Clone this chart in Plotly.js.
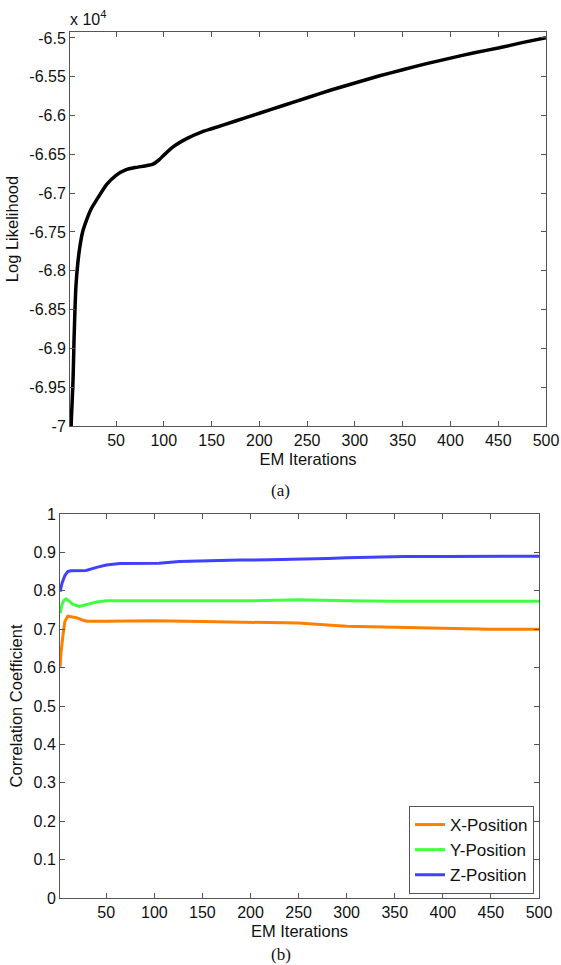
<!DOCTYPE html>
<html>
<head>
<meta charset="utf-8">
<script src="https://cdn.plot.ly/plotly-3.0.1.min.js"></script>
<style>html,body{margin:0;padding:0;background:#fff;}#chart{width:561px;height:965px;}</style>
</head>
<body>
<div id="chart"></div>
<script>
// Top panel: log likelihood (values in units of 1e4)
const llIter = [2,3,4,5,6,7,8,10,12,15,19,24,30,40,50,60,70,80,88,95,100,110,125,140,150,175,200,225,250,275,300,325,350,375,400,425,450,475,500];
const llValue = [-7.2,-7.0,-6.97,-6.94,-6.89,-6.85,-6.82,-6.79,-6.77,-6.75,-6.735,-6.72,-6.708,-6.689,-6.677,-6.670,-6.667,-6.665,-6.663,-6.657,-6.651,-6.640,-6.629,-6.621,-6.617,-6.607,-6.597,-6.587,-6.577,-6.567,-6.558,-6.549,-6.541,-6.533,-6.526,-6.519,-6.513,-6.506,-6.4997];

// Bottom panel: correlation coefficients
const xIter = [2,3,5,7,10,14,19,25,30,50,100,150,200,250,280,300,350,400,450,500];
const xValue = [0.602,0.64,0.685,0.72,0.734,0.733,0.730,0.724,0.721,0.721,0.722,0.720,0.718,0.716,0.711,0.708,0.705,0.703,0.700,0.700];
const yIter = [2,4,6,8,11,15,22,30,40,50,100,150,200,250,280,300,350,400,450,500];
const yValue = [0.741,0.765,0.775,0.779,0.774,0.765,0.759,0.764,0.771,0.774,0.774,0.773,0.774,0.777,0.775,0.774,0.773,0.773,0.773,0.773];
const zIter = [2,4,7,10,13,20,29,40,50,64,80,105,126,150,189,220,250,280,300,330,360,400,450,500];
const zValue = [0.798,0.820,0.840,0.850,0.852,0.852,0.853,0.861,0.867,0.871,0.871,0.872,0.876,0.878,0.880,0.881,0.882,0.884,0.886,0.888,0.889,0.889,0.890,0.890];

const xTicks = [50,100,150,200,250,300,350,400,450,500];
const llTicks = [-7,-6.95,-6.9,-6.85,-6.8,-6.75,-6.7,-6.65,-6.6,-6.55,-6.5];
const llTickText = ['-7','-6.95','-6.9','-6.85','-6.8','-6.75','-6.7','-6.65','-6.6','-6.55','-6.5'];
const ccTicks = [0,0.1,0.2,0.3,0.4,0.5,0.6,0.7,0.8,0.9,1];
const ccTickText = ['0','0.1','0.2','0.3','0.4','0.5','0.6','0.7','0.8','0.9','1'];

const F = 'Liberation Sans, Arial, sans-serif';
const TXT = '#111';
const axisCommon = {
  showgrid: false, zeroline: false, showline: true, linecolor: '#555', linewidth: 1,
  mirror: 'ticks', ticks: 'inside', ticklen: 5, tickcolor: '#555',
  tickfont: {family: F, size: 16, color: TXT}
};

const traces = [
  {x: llIter, y: llValue, type: 'scatter', mode: 'lines', line: {color: '#000', width: 3.5, shape: 'spline', smoothing: 0.5}, xaxis: 'x', yaxis: 'y', showlegend: false},
  {x: xIter, y: xValue, type: 'scatter', mode: 'lines', name: 'X-Position', line: {color: '#ff8000', width: 3}, xaxis: 'x2', yaxis: 'y2'},
  {x: yIter, y: yValue, type: 'scatter', mode: 'lines', name: 'Y-Position', line: {color: '#40ff40', width: 3}, xaxis: 'x2', yaxis: 'y2'},
  {x: zIter, y: zValue, type: 'scatter', mode: 'lines', name: 'Z-Position', line: {color: '#4040ff', width: 3}, xaxis: 'x2', yaxis: 'y2'}
];

const layout = {
  width: 561, height: 965,
  margin: {l: 0, r: 0, t: 0, b: 0},
  paper_bgcolor: '#fff', plot_bgcolor: '#fff',
  xaxis: Object.assign({}, axisCommon, {domain: [70/561, 546/561], range: [1.8, 500], tickvals: xTicks, anchor: 'y',
    title: {text: 'EM Iterations', font: {family: F, size: 16.5, color: TXT}, standoff: 5}}),
  yaxis: Object.assign({}, axisCommon, {domain: [1-426/965, 1-32/965], range: [-7, -6.4923], tickvals: llTicks, ticktext: llTickText, anchor: 'x',
    title: {text: 'Log Likelihood', font: {family: F, size: 16.5, color: TXT}, standoff: 6}}),
  xaxis2: Object.assign({}, axisCommon, {domain: [60/561, 539/561], range: [1.9, 500], tickvals: xTicks, anchor: 'y2',
    title: {text: 'EM Iterations', font: {family: F, size: 16.5, color: TXT}, standoff: 5}}),
  yaxis2: Object.assign({}, axisCommon, {domain: [1-898/965, 1-514/965], range: [0, 1], tickvals: ccTicks, ticktext: ccTickText, anchor: 'x2',
    title: {text: 'Correlation Coefficient', font: {family: F, size: 16.5, color: TXT}, standoff: 6}}),
  legend: {x: 534/561, y: 1-894/965, xanchor: 'right', yanchor: 'bottom', xref: 'paper', yref: 'paper',
    bgcolor: '#fff', bordercolor: '#555', borderwidth: 1, font: {family: F, size: 17, color: TXT},
    tracegroupgap: 0, itemwidth: 30},
  annotations: [
    {text: 'x 10<sup>4</sup>', xref: 'paper', yref: 'paper', x: 68/561, y: 1-30/965, xanchor: 'left', yanchor: 'bottom', showarrow: false,
      font: {family: F, size: 16, color: TXT}},
    {text: '(a)', xref: 'paper', yref: 'paper', x: 0.5, y: 1-491/965, xanchor: 'center', yanchor: 'middle', showarrow: false,
      font: {family: 'Liberation Serif, Times New Roman, serif', size: 17, color: TXT}},
    {text: '(b)', xref: 'paper', yref: 'paper', x: 0.5, y: 1-954/965, xanchor: 'center', yanchor: 'middle', showarrow: false,
      font: {family: 'Liberation Serif, Times New Roman, serif', size: 17, color: TXT}}
  ]
};

Plotly.newPlot('chart', traces, layout, {displayModeBar: false, staticPlot: true});
</script>
</body>
</html>
